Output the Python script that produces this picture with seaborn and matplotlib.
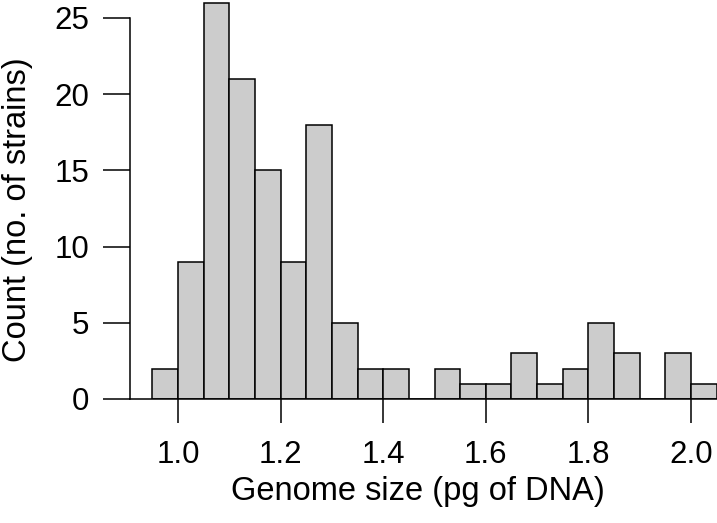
import numpy as np
import pandas as pd
import matplotlib
matplotlib.use("Agg")
import matplotlib.pyplot as plt
import seaborn as sns

# histogram counts, bins of width 0.05 starting at 0.95
bin_edges = [0.95, 1.00, 1.05, 1.10, 1.15, 1.20, 1.25, 1.30, 1.35, 1.40, 1.45, 1.50,
             1.55, 1.60, 1.65, 1.70, 1.75, 1.80, 1.85, 1.90, 1.95, 2.00, 2.05]
counts = [2, 9, 26, 21, 15, 9, 18, 5, 2, 2, 0, 2, 1, 1, 3, 1, 2, 5, 3, 0, 3, 1]
x_ticks = [1.0, 1.2, 1.4, 1.6, 1.8, 2.0]
y_ticks = [0, 5, 10, 15, 20, 25]

edges = np.array(bin_edges)
df = pd.DataFrame({"size": (edges[:-1] + edges[1:]) / 2, "n": counts})

sns.set_style("white")
plt.rcParams['font.family'] = ['Liberation Sans', 'DejaVu Sans']
plt.rcParams['text.color'] = 'black'

W, H = 717, 523
fig = plt.figure(figsize=(W / 100, H / 100), dpi=100)
# axes in pixel coords: left 130, right 717, top 0, bottom 399
ax = fig.add_axes([130 / W, (H - 399) / H, (W - 130) / W, 399 / H])

sns.histplot(data=df, x="size", weights="n", bins=list(bin_edges), color="#cccccc",
             edgecolor="black", linewidth=1.1, alpha=1, ax=ax)

ax.set_xlim(0.9064, 2.0507)
ax.set_ylim(0, 26.18)

ax.set_xticks(x_ticks)
ax.set_xticklabels([f"{t:.1f}" for t in x_ticks])
ax.set_yticks(y_ticks)

for s in ["top", "right"]:
    ax.spines[s].set_visible(False)
ax.spines["left"].set_bounds(0, 25)
for s in ["left", "bottom"]:
    ax.spines[s].set_linewidth(1.1)
    ax.spines[s].set_color("black")

ax.tick_params(axis="x", direction="out", length=17.3, width=1.1, pad=12,
               labelsize=22.5, color="black", labelcolor="black", bottom=True)
ax.tick_params(axis="y", direction="out", length=19.4, width=1.1, pad=10,
               labelsize=22.5, color="black", labelcolor="black", left=True)

ax.set_xlabel("")
ax.set_ylabel("")
fig.text(418 / W, 1 - 500 / H, "Genome size (pg of DNA)", ha="center",
         va="baseline", fontsize=23.5)
fig.text(18 / W, 1 - 210 / H, "Count (no. of strains)", ha="center",
         va="center", rotation=90, fontsize=23.5)

plt.savefig("out.png", dpi=100)
